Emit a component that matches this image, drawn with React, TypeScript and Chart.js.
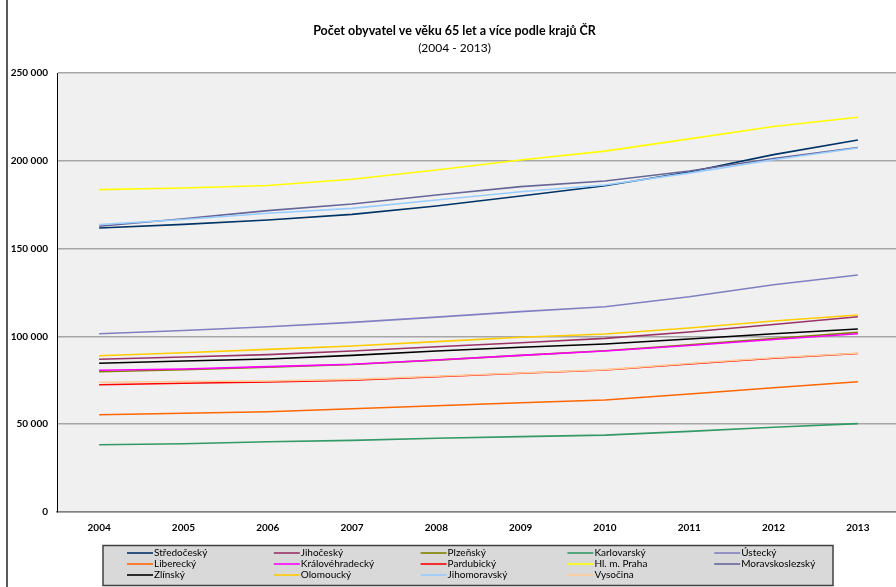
import React, { useEffect, useRef } from 'react';
import { Chart, registerables } from 'chart.js';

Chart.register(...registerables);

// Years on the category axis
const years = ['2004', '2005', '2006', '2007', '2008', '2009', '2010', '2011', '2012', '2013'];

// Population aged 65+ per region (persons)
const stredocesky = [161700, 163800, 166300, 169500, 174300, 180000, 185800, 193600, 203500, 211800];
const jihocesky = [87000, 88300, 89600, 91700, 94100, 96400, 98900, 102500, 106800, 111200];
const plzensky = [79900, 81000, 82500, 84000, 86500, 89200, 91800, 95200, 98800, 102300];
const karlovarsky = [38300, 38900, 40000, 40800, 42000, 42900, 43800, 45900, 48300, 50300];
const ustecky = [101500, 103400, 105500, 108000, 111000, 114100, 116900, 122600, 129400, 135000];
const liberecky = [55400, 56200, 57100, 58800, 60500, 62200, 63800, 67200, 70800, 74200];
const kralovehradecky = [80700, 81400, 82800, 84100, 86600, 89200, 91700, 94800, 98200, 101500];
const pardubicky = [72500, 73300, 74000, 75000, 77000, 79000, 80900, 84300, 87600, 90300];
const praha = [183600, 184500, 185900, 189500, 194800, 200500, 205500, 212500, 219500, 224800];
const moravskoslezsky = [162700, 167000, 171600, 175400, 180500, 185300, 188500, 194200, 201300, 207600];
const zlinsky = [84700, 86000, 87100, 89200, 91700, 93800, 95700, 98500, 101500, 104200];
const olomoucky = [89000, 90700, 92600, 94500, 97000, 99500, 101400, 104800, 108800, 112200];
const jihomoravsky = [163700, 166600, 170100, 172900, 177700, 182400, 186200, 193000, 200600, 207300];
const vysocina = [73900, 74300, 74600, 75500, 77300, 79200, 81100, 84600, 87800, 90400];

const regionNames = [
  'Středočeský', 'Jihočeský', 'Plzeňský', 'Karlovarský', 'Ústecký',
  'Liberecký', 'Královéhradecký', 'Pardubický', 'Hl. m. Praha', 'Moravskoslezský',
  'Zlínský', 'Olomoucký', 'Jihomoravský', 'Vysočina',
];
const regionValues = [
  stredocesky, jihocesky, plzensky, karlovarsky, ustecky,
  liberecky, kralovehradecky, pardubicky, praha, moravskoslezsky,
  zlinsky, olomoucky, jihomoravsky, vysocina,
];
const regionColors = [
  '#003366', '#993366', '#808000', '#339966', '#8080c0',
  '#ff6600', '#ff00ff', '#ff0000', '#ffff00', '#666699',
  '#000000', '#ffcc00', '#99ccff', '#ffcc99',
];

const titleText = 'Počet obyvatel ve věku 65 let a více podle krajů ČR';
const subtitleText = '(2004 - 2013)';

const FONT = 'Lato, "Open Sans", sans-serif';

const formatThousands = (v: number) =>
  String(v).replace(/\B(?=(\d{3})+(?!\d))/g, ' ');

// Light grey plot-area fill
const plotBackground = {
  id: 'plotBackground',
  beforeDraw(chart: any) {
    const { ctx, chartArea } = chart;
    ctx.save();
    ctx.fillStyle = '#f0f0f0';
    ctx.fillRect(chartArea.left, chartArea.top, chartArea.right - chartArea.left, chartArea.bottom - chartArea.top);
    ctx.restore();
  },
};

// Boxed legend laid out as a five-column grid under the axis
const gridLegend = {
  id: 'gridLegend',
  afterDraw(chart: any) {
    const { ctx } = chart;
    const boxX = 94;
    const boxY = 545.5;
    const boxW = 730;
    const boxH = 40;
    ctx.save();
    ctx.fillStyle = '#d9d9d9';
    ctx.fillRect(boxX, boxY, boxW, boxH);
    ctx.strokeStyle = '#404040';
    ctx.lineWidth = 1.5;
    ctx.strokeRect(boxX, boxY, boxW, boxH);

    ctx.font = `10px ${FONT}`;
    ctx.textBaseline = 'middle';
    ctx.textAlign = 'left';
    chart.data.datasets.forEach((ds: any, i: number) => {
      const col = i % 5;
      const row = Math.floor(i / 5);
      const x = 118 + col * 146.8;
      const y = 553 + row * 11;
      ctx.strokeStyle = ds.borderColor;
      ctx.lineWidth = 1.6;
      ctx.beginPath();
      ctx.moveTo(x, y);
      ctx.lineTo(x + 26, y);
      ctx.stroke();
      ctx.fillStyle = '#000';
      ctx.fillText(ds.label, x + 27, y);
    });
    ctx.restore();
  },
};

export default function App() {
  const canvasRef = useRef<HTMLCanvasElement>(null);

  useEffect(() => {
    if (!canvasRef.current) return;
    const chart = new Chart(canvasRef.current, {
      type: 'line',
      data: {
        labels: years,
        datasets: regionNames.map((name, i) => ({
          label: name,
          data: regionValues[i],
          borderColor: regionColors[i],
          backgroundColor: regionColors[i],
          borderWidth: 1.6,
          pointRadius: 0,
          tension: 0,
          fill: false,
          order: regionNames.length - i,
        })),
      },
      options: {
        responsive: false,
        animation: false,
        devicePixelRatio: 1,
        layout: { padding: { left: 0, right: 5, top: 0, bottom: 45 } },
        plugins: {
          legend: { display: false },
          tooltip: { enabled: false },
          title: {
            display: true,
            text: titleText,
            color: '#000',
            font: { family: FONT, size: 12.5, weight: 'bold', lineHeight: 1.2 },
            padding: { top: 23.5, bottom: 0 },
          },
          subtitle: {
            display: true,
            text: subtitleText,
            color: '#000',
            font: { family: FONT, size: 12, weight: 'normal', lineHeight: 1.2 },
            padding: { top: 2.3, bottom: 17.8 },
          },
        },
        scales: {
          x: {
            type: 'category',
            offset: true,
            grid: { display: false, drawTicks: false },
            border: { display: true, color: '#808080', width: 1.5 },
            ticks: {
              color: '#000',
              font: { family: FONT, size: 10, weight: 'bold' },
              padding: 10,
              maxRotation: 0,
              autoSkip: false,
            },
            afterFit(scale: any) {
              scale.height = 30;
            },
          },
          y: {
            min: 0,
            max: 250000,
            grid: { color: '#a6a6a6', lineWidth: 1.5, drawTicks: false },
            border: { display: true, color: '#000', width: 1 },
            ticks: {
              stepSize: 50000,
              color: '#000',
              font: { family: FONT, size: 10, weight: 'bold' },
              padding: 9,
              callback: (v: any) => formatThousands(Number(v)),
            },
            afterFit(scale: any) {
              scale.width = 48;
            },
          },
        },
      },
      plugins: [plotBackground, gridLegend],
    });
    return () => chart.destroy();
  }, []);

  return (
    <div style={{ position: 'fixed', left: 0, top: 0, width: 896, height: 587, overflow: 'hidden', background: '#fff' }}>
      <div style={{ position: 'absolute', left: 6, top: 0, width: 2, height: 587, background: '#595959' }} />
      <div style={{ position: 'absolute', left: 9, top: 0, width: 896, height: 587 }}>
        <canvas ref={canvasRef} width={896} height={587} style={{ display: 'block' }} />
      </div>
    </div>
  );
}
